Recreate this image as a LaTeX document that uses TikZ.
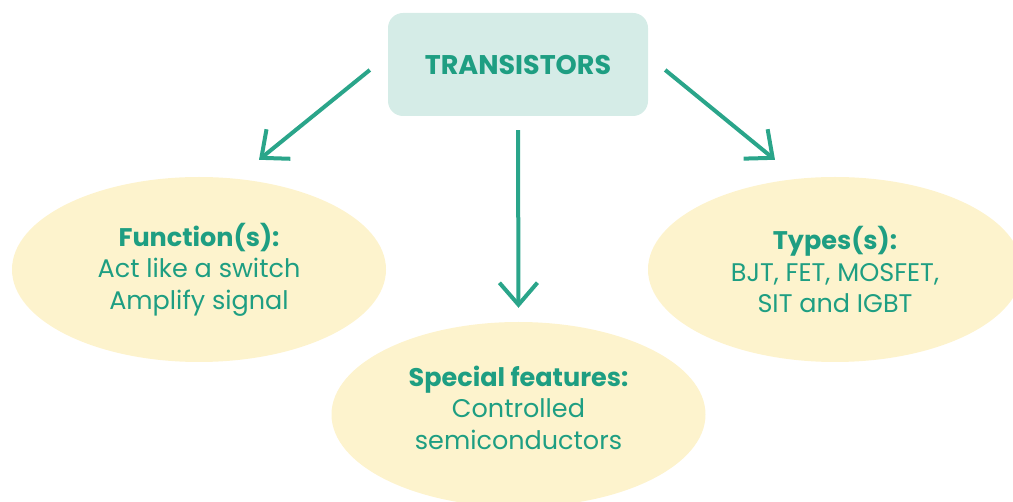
\documentclass[tikz,border=0pt]{standalone}
\usepackage{fontspec}
\setmainfont{Poppins}
\usetikzlibrary{shapes.geometric, arrows.meta}
\definecolor{tealtext}{HTML}{1E9E82}
\definecolor{arrowteal}{HTML}{2AA58A}
\definecolor{boxfill}{HTML}{D5ECE7}
\definecolor{bubblefill}{HTML}{FDF3CD}
\tikzstyle{title} = [rectangle, rounded corners=15pt, minimum width=260pt,
    minimum height=103pt, fill=boxfill, text=tealtext,
    font=\bfseries\fontsize{27}{32}\selectfont]
\tikzstyle{bubble} = [ellipse, minimum width=374pt, minimum height=185pt,
    inner sep=0pt, fill=bubblefill, text=tealtext, align=center,
    font=\fontsize{25.5}{31.5}\selectfont]
\tikzstyle{arrow} = [line width=4pt, draw=arrowteal,
    -{Straight Barb[length=22pt,width=38pt]}]
\begin{document}
\begin{tikzpicture}[x=1pt, y=-1pt]
\useasboundingbox (0,0) rectangle (1013,502);

% Nodes
\node (trans) [title] at (518,64.5) {TRANSISTORS};
\node (func) [bubble] at (199,269.5) {{\bfseries Function(s):}\\Act like a switch\\Amplify signal};
\node (feat) [bubble] at (518.5,414.5) {{\bfseries Special features:}\\Controlled\\semiconductors\rule[-14pt]{0pt}{14pt}};
\node (types) [bubble] at (835,269.5) {{\bfseries Types(s):}\\BJT, FET, MOSFET,\\SIT and IGBT};

% Arrows
\draw [arrow] ([xshift=-18pt, yshift=-5.5pt]trans.west) -- ([xshift=60pt, yshift=17pt]func.north);
\draw [arrow] ([yshift=-14pt]trans.south) -- ([yshift=14pt]feat.north);
\draw [arrow] ([xshift=17pt, yshift=-5.5pt]trans.east) -- ([xshift=-60pt, yshift=17pt]types.north);

\end{tikzpicture}
\end{document}
